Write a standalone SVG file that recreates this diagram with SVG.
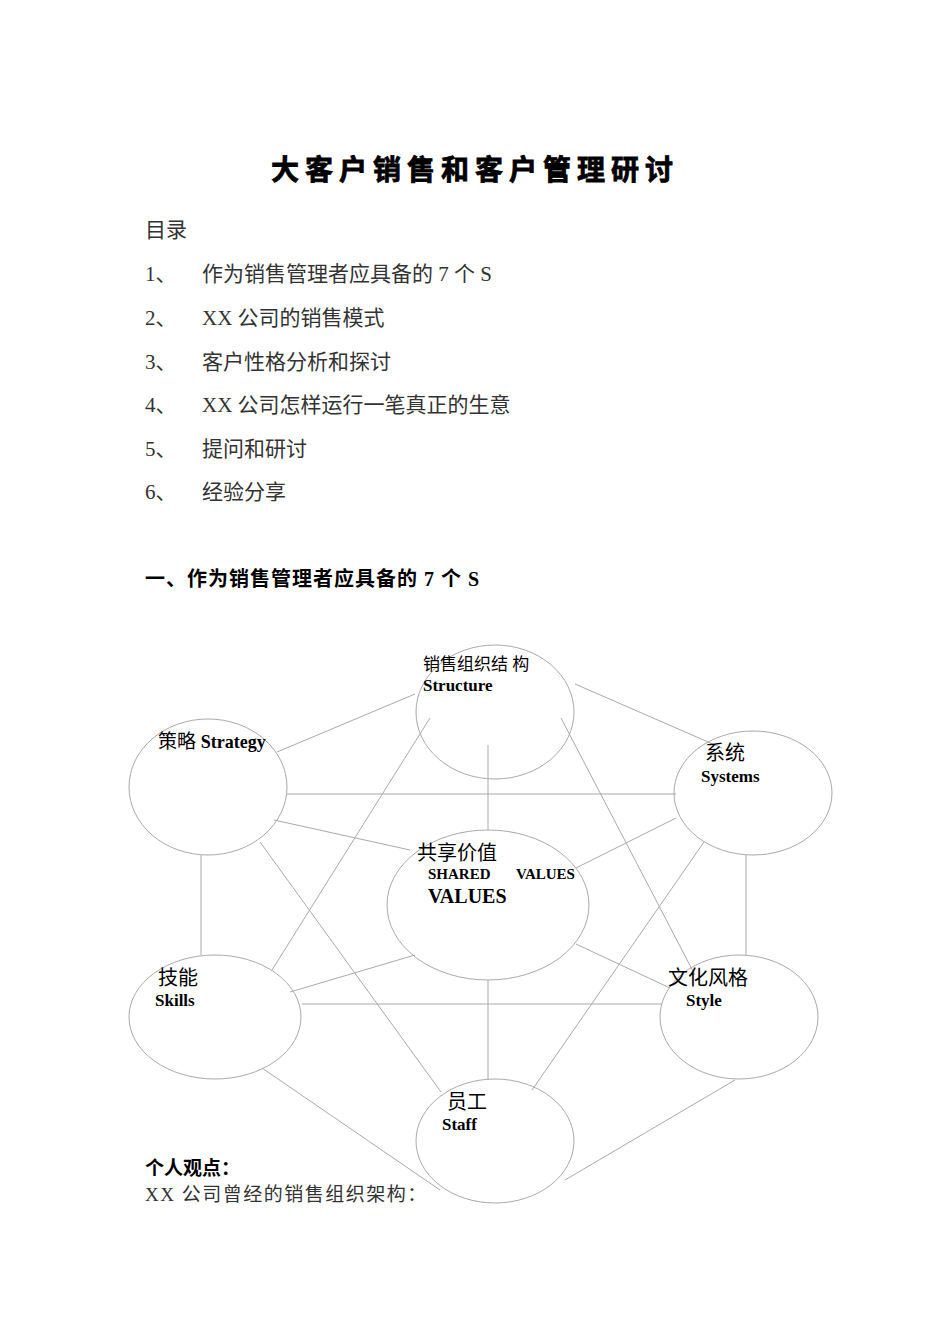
<svg xmlns="http://www.w3.org/2000/svg" width="950" height="1344" viewBox="0 0 950 1344">
<style>
.s{font-family:"Liberation Serif","Noto Sans CJK SC",serif;fill:#333}
.t{font-family:"Liberation Serif","Noto Sans CJK SC",serif;fill:#000}
.b{font-family:"Liberation Serif","Noto Sans CJK SC",serif;font-weight:bold;fill:#000}
ellipse{fill:none;stroke:#aaa;stroke-width:1}
line{stroke:#aaa;stroke-width:1}
</style>
<rect width="950" height="1344" fill="#fff"/>
<text x="475" y="180" text-anchor="middle" class="b" font-size="28" letter-spacing="6" stroke="#000" stroke-width="0.8">大客户销售和客户管理研讨</text>
<g class="s" font-size="21">
<text x="145" y="237">目录</text>
<text x="145" y="281">1、</text><text x="202" y="281">作为销售管理者应具备的 7 个 S</text>
<text x="145" y="325">2、</text><text x="202" y="325">XX 公司的销售模式</text>
<text x="145" y="369">3、</text><text x="202" y="369">客户性格分析和探讨</text>
<text x="145" y="412">4、</text><text x="202" y="412">XX 公司怎样运行一笔真正的生意</text>
<text x="145" y="456">5、</text><text x="202" y="456">提问和研讨</text>
<text x="145" y="499">6、</text><text x="202" y="499">经验分享</text>
</g>
<text x="145" y="586" class="b" font-size="20" letter-spacing="1">一、作为销售管理者应具备的 7 个 S</text>
<g id="connectors">
<line x1="415" y1="694" x2="277" y2="752"/>
<line x1="575" y1="684" x2="722" y2="748"/>
<line x1="287" y1="794" x2="676" y2="794"/>
<line x1="274" y1="820" x2="410" y2="850"/>
<line x1="576" y1="868" x2="676" y2="818"/>
<line x1="488" y1="745" x2="488" y2="830"/>
<line x1="430" y1="718" x2="272" y2="970"/>
<line x1="561" y1="718" x2="695" y2="975"/>
<line x1="260" y1="842" x2="441" y2="1092"/>
<line x1="704" y1="842" x2="532" y2="1090"/>
<line x1="201" y1="855" x2="201" y2="955"/>
<line x1="746" y1="855" x2="746" y2="955"/>
<line x1="415" y1="955" x2="290" y2="992"/>
<line x1="576" y1="944" x2="670" y2="988"/>
<line x1="302" y1="1004" x2="662" y2="1004"/>
<line x1="488" y1="980" x2="488" y2="1080"/>
<line x1="262" y1="1068" x2="440" y2="1190"/>
<line x1="735" y1="1080" x2="565" y2="1180"/>
</g>
<g id="structure"><ellipse cx="495" cy="712" rx="79" ry="67"/><text x="423" y="670" class="t" font-size="17">销售组织结  构</text><text x="423" y="691" class="b" font-size="17">Structure</text></g>
<g id="strategy"><ellipse cx="208" cy="787" rx="79" ry="68"/><text x="158" y="748" class="t" font-size="19">策略 <tspan class="b" font-size="18">Strategy</tspan></text></g>
<g id="systems"><ellipse cx="753" cy="793" rx="79" ry="62"/><text x="705" y="760" class="t" font-size="20">系统</text><text x="701" y="782" class="b" font-size="17">Systems</text></g>
<g id="shared"><ellipse cx="488" cy="905" rx="101" ry="75"/><text x="417" y="860" class="t" font-size="20">共享价值</text><text x="428" y="879" class="b" font-size="15">SHARED<tspan x="516">VALUES</tspan></text><text x="428" y="903" class="b" font-size="20">VALUES</text></g>
<g id="skills"><ellipse cx="215" cy="1017" rx="86" ry="62"/><text x="158" y="985" class="t" font-size="20">技能</text><text x="155" y="1006" class="b" font-size="17">Skills</text></g>
<g id="style"><ellipse cx="739" cy="1017" rx="79" ry="62"/><text x="668" y="985" class="t" font-size="20">文化风格</text><text x="686" y="1006" class="b" font-size="17">Style</text></g>
<g id="staff"><ellipse cx="495" cy="1141" rx="79" ry="62"/><text x="447" y="1109" class="t" font-size="20">员工</text><text x="442" y="1130" class="b" font-size="17">Staff</text></g>
<text x="145" y="1175" class="b" font-size="19">个人观点：</text>
<text x="145" y="1201" class="s" font-size="19" letter-spacing="1.5">XX 公司曾经的销售组织架构：</text>
</svg>
